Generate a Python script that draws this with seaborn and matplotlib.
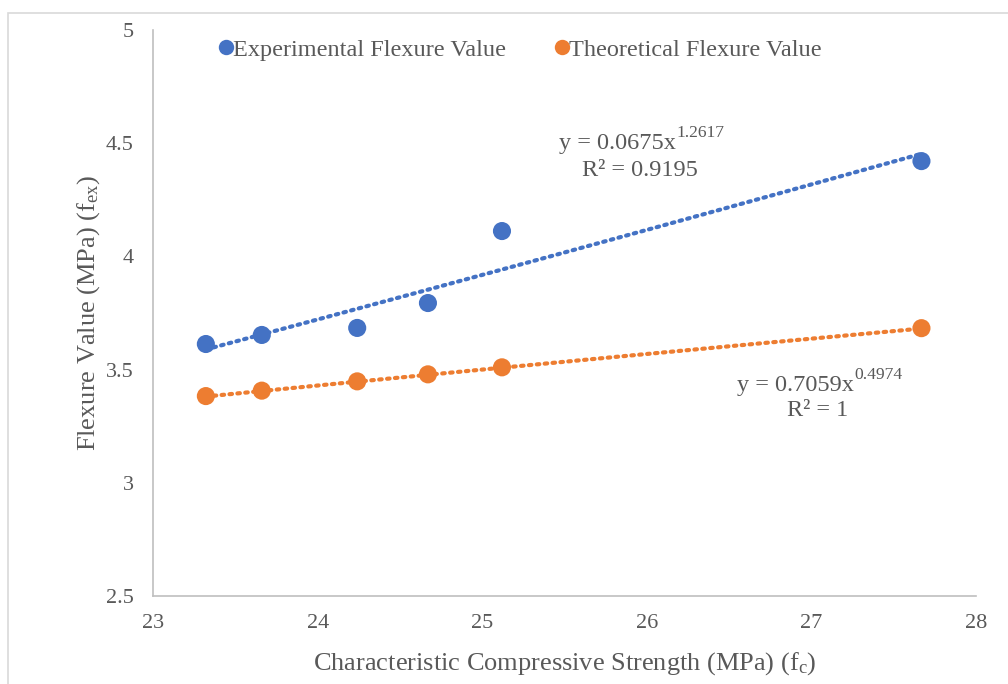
import numpy as np
import pandas as pd
import matplotlib
matplotlib.use("Agg")
import matplotlib.pyplot as plt
from matplotlib.patches import Rectangle
import seaborn as sns

# Characteristic compressive strength (MPa)
fc = [23.32, 23.66, 24.24, 24.67, 25.12, 27.67]
# Flexure values (MPa)
experimental = [3.613, 3.653, 3.684, 3.794, 4.112, 4.421]
theoretical = [3.383, 3.407, 3.448, 3.479, 3.510, 3.683]
series_names = ["Experimental Flexure Value", "Theoretical Flexure Value"]
# Power trendline coefficients y = a * x^b and R²
trend_a = [0.0675, 0.7059]
trend_b = [1.2617, 0.4974]
trend_r2 = ["0.9195", "1"]

x_ticks = [23, 24, 25, 26, 27, 28]
y_ticks = [2.5, 3, 3.5, 4, 4.5, 5]

sns.set_theme(style="white")
plt.rcParams["font.family"] = ["Liberation Serif", "DejaVu Serif"]
plt.rcParams["mathtext.fontset"] = "custom"
plt.rcParams["mathtext.rm"] = "Liberation Serif"
plt.rcParams["mathtext.it"] = "Liberation Serif:italic"

text_color = "#595959"
colors = ["#4472C4", "#ED7D31"]

df = pd.DataFrame({
    "fc": fc * 2,
    "value": experimental + theoretical,
    "series": [series_names[0]] * len(fc) + [series_names[1]] * len(fc),
})

fig = plt.figure(figsize=(10.08, 6.84), dpi=100)
fig.patch.set_facecolor("white")
ax = fig.add_axes([0.152, 0.1287, 0.816, 0.8274])

# Outer chart frame
fig.patches.append(Rectangle((8 / 1008, -0.05), 1.1, 1 - 13 / 684 + 0.05,
                             transform=fig.transFigure, fill=False,
                             edgecolor="#D9D9D9", linewidth=1.2, zorder=0))

# Power trendlines
xs = np.linspace(min(fc), max(fc), 200)
for a, b, c in zip(trend_a, trend_b, colors):
    ax.plot(xs, a * xs ** b, linestyle=(0, (0.6, 1.3)), color=c,
            linewidth=3.0, dash_capstyle="round", zorder=2)

sns.scatterplot(data=df, x="fc", y="value", hue="series", palette=colors,
                s=170, edgecolor="none", ax=ax, zorder=3)

ax.set_xlim(23, 28)
ax.set_ylim(2.5, 5)
ax.set_xticks(x_ticks)
ax.set_yticks(y_ticks)
ax.set_xticklabels([str(t) for t in x_ticks])
ax.set_yticklabels([f"{t:g}" for t in y_ticks])
ax.tick_params(axis="both", length=0, labelsize=16, colors=text_color)
ax.tick_params(axis="x", pad=13)
ax.tick_params(axis="y", pad=14)

for side in ["top", "right"]:
    ax.spines[side].set_visible(False)
for side in ["left", "bottom"]:
    ax.spines[side].set_color("#BFBFBF")
    ax.spines[side].set_linewidth(1.2)

ax.set_xlabel(r"Characteristic Compressive Strength (MPa) (f$_\mathrm{c}$)",
              fontsize=19, color=text_color, labelpad=12)
ax.set_ylabel(r"Flexure Value (MPa) (f$_\mathrm{ex}$)",
              fontsize=19, color=text_color, labelpad=3)

# Trendline equations: base text plus a raised exponent
eq_size = 17.5
eq_spec = [
    (26.18, 4.50, 25.96, 4.38, 0),
    (27.26, 3.43, 27.04, 3.32, 1),
]
for x_base, y_eq, x_r2, y_r2, i in eq_spec:
    base = ax.text(x_base, y_eq, f"y = {trend_a[i]:.4f}x", ha="right",
                   va="center", fontsize=eq_size, color=text_color)
    ax.annotate(f"{trend_b[i]:.4f}", xy=(1.0, 0.62), xycoords=base,
                ha="left", va="bottom", fontsize=eq_size * 0.72,
                color=text_color)
    ax.text(x_r2, y_r2, "R² = " + trend_r2[i], ha="center",
            va="center", fontsize=eq_size, color=text_color)

leg = ax.legend(loc="center", bbox_to_anchor=(0.443, 0.965), ncol=2,
                frameon=False, fontsize=17.5, handletextpad=-0.2,
                handlelength=1.0, columnspacing=1.8, markerscale=0.85)
for t in leg.get_texts():
    t.set_color(text_color)

fig.savefig("out.png", dpi=100, facecolor="white")
